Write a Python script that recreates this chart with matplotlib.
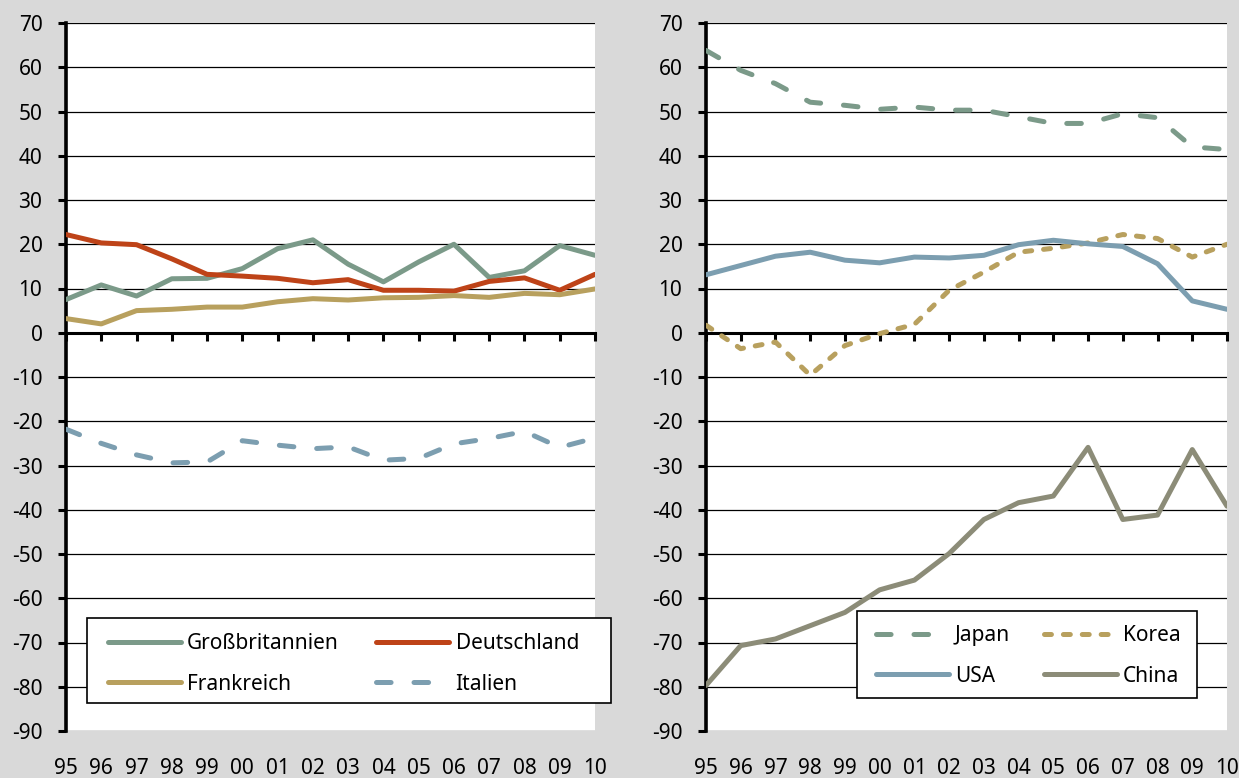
import numpy as np
import matplotlib
matplotlib.use("Agg")
import matplotlib.pyplot as plt
from matplotlib.patches import Rectangle

plt.rcParams['font.family'] = ['Noto Sans', 'DejaVu Sans']
plt.rcParams['lines.scale_dashes'] = False

years = ["95", "96", "97", "98", "99", "00", "01", "02", "03", "04",
         "05", "06", "07", "08", "09", "10"]

# linke Grafik: Europa
grossbritannien = [7.5, 10.8, 8.3, 12.2, 12.3, 14.5, 19.0, 21.0, 15.5, 11.5,
                   16.0, 20.0, 12.5, 14.0, 19.7, 17.5]
deutschland = [22.2, 20.3, 19.9, 16.7, 13.2, 12.8, 12.3, 11.3, 12.0, 9.6,
               9.6, 9.4, 11.6, 12.4, 9.6, 13.2]
frankreich = [3.2, 2.0, 5.0, 5.3, 5.8, 5.8, 7.0, 7.7, 7.4, 7.9,
              8.0, 8.4, 8.0, 8.9, 8.6, 9.9]
italien = [-21.8, -25.0, -27.6, -29.4, -29.2, -24.4, -25.4, -26.2, -25.8, -28.8,
           -28.4, -25.1, -23.9, -22.3, -25.9, -23.8]

# rechte Grafik: Asien / USA
japan = [63.8, 59.3, 56.3, 52.1, 51.4, 50.5, 51.0, 50.3, 50.3, 48.8,
         47.3, 47.3, 49.5, 48.6, 42.0, 41.4]
korea = [1.7, -3.6, -2.1, -9.6, -2.9, -0.2, 1.9, 9.6, 13.7, 18.2,
         19.1, 20.3, 22.2, 21.3, 17.1, 20.0]
usa = [13.1, 15.2, 17.3, 18.2, 16.4, 15.8, 17.1, 16.9, 17.5, 19.9,
       20.9, 20.1, 19.5, 15.6, 7.2, 5.3]
china = [-79.7, -70.7, -69.2, -66.2, -63.2, -58.1, -55.9, -49.9, -42.2, -38.4,
         -36.9, -25.9, -42.2, -41.2, -26.4, -39.2]

c_green = "#7B9A89"
c_red = "#BE4318"
c_tan = "#B8A05E"
c_blue = "#7C9EB0"
c_olive = "#8C8C78"

long_dash = (0, (10.5, 16.5))
short_dash = (0, (5.0, 8.6))
LW = 3.6
FS = 15

fig = plt.figure(figsize=(12.39, 7.78), dpi=100, facecolor="#D9D9D9")
W, H = 1239.0, 778.0


def setup_axes(rect):
    ax = fig.add_axes(rect)
    ax.set_facecolor("white")
    x = np.arange(len(years))
    ax.set_xlim(0, len(years) - 1)
    ax.set_ylim(-90, 70)
    ax.set_yticks(range(-90, 71, 10))
    ax.set_yticklabels([str(v) for v in range(-90, 71, 10)])
    ax.set_xticks(x)
    ax.yaxis.grid(True, color="black", linewidth=0.9)
    ax.set_axisbelow(True)
    for s in ("top", "right"):
        ax.spines[s].set_visible(False)
    ax.spines["left"].set_linewidth(2.6)
    ax.spines["bottom"].set_position(("data", 0))
    ax.spines["bottom"].set_linewidth(2.2)
    ax.tick_params(axis="y", direction="out", length=6, width=2.2,
                   pad=11, labelsize=FS)
    ax.tick_params(axis="x", direction="out", length=5.5, width=2.2,
                   labelbottom=False)
    for i, lab in enumerate(years):
        ax.text(i, -0.053, lab, transform=ax.get_xaxis_transform(),
                ha="center", va="center", fontsize=FS)
    return ax, x


def add_legend(ax, handles, box, anchor, colspace):
    # Rahmen separat zeichnen, damit die Boxgröße fest ist
    x0, y0, x1, y1 = box
    ax.add_patch(Rectangle((x0 / W, 1 - y1 / H), (x1 - x0) / W, (y1 - y0) / H,
                           transform=fig.transFigure, facecolor="white",
                           edgecolor="black", linewidth=1.2, zorder=4,
                           clip_on=False))
    leg = ax.legend(handles=handles, ncol=2, loc="upper left",
                    bbox_to_anchor=(anchor[0] / W, 1 - anchor[1] / H),
                    bbox_transform=fig.transFigure,
                    fontsize=FS, handlelength=3.5, handletextpad=0.3,
                    columnspacing=colspace, labelspacing=0.95, borderpad=1.0,
                    borderaxespad=0, frameon=False)
    leg.set_zorder(5)
    return leg


kw = dict(linewidth=LW, solid_capstyle="round", dash_capstyle="round", zorder=3)

# linke Grafik
ax1, x = setup_axes([66 / W, 1 - 731 / H, (595 - 66) / W, (731 - 23) / H])
l_gb, = ax1.plot(x, grossbritannien, color=c_green, label="Großbritannien", **kw)
l_de, = ax1.plot(x, deutschland, color=c_red, label="Deutschland", **kw)
l_fr, = ax1.plot(x, frankreich, color=c_tan, label="Frankreich", **kw)
l_it, = ax1.plot(x, italien, color=c_blue, linestyle=long_dash, label="Italien", **kw)
add_legend(ax1, [l_gb, l_fr, l_de, l_it], (87, 618, 611, 703), (87, 612), 1.8)

# rechte Grafik
ax2, x = setup_axes([706 / W, 1 - 731 / H, (1227 - 706) / W, (731 - 23) / H])
l_jp, = ax2.plot(x, japan, color=c_green, linestyle=long_dash, label="Japan", **kw)
l_kr, = ax2.plot(x, korea, color=c_tan, linestyle=short_dash, label="Korea", **kw)
l_us, = ax2.plot(x, usa, color=c_blue, label="USA", **kw)
l_cn, = ax2.plot(x, china, color=c_olive, label="China", **kw)
add_legend(ax2, [l_jp, l_us, l_kr, l_cn], (857, 611, 1197, 698), (855, 604), 1.6)

fig.savefig("out.png", dpi=100, facecolor=fig.get_facecolor())
